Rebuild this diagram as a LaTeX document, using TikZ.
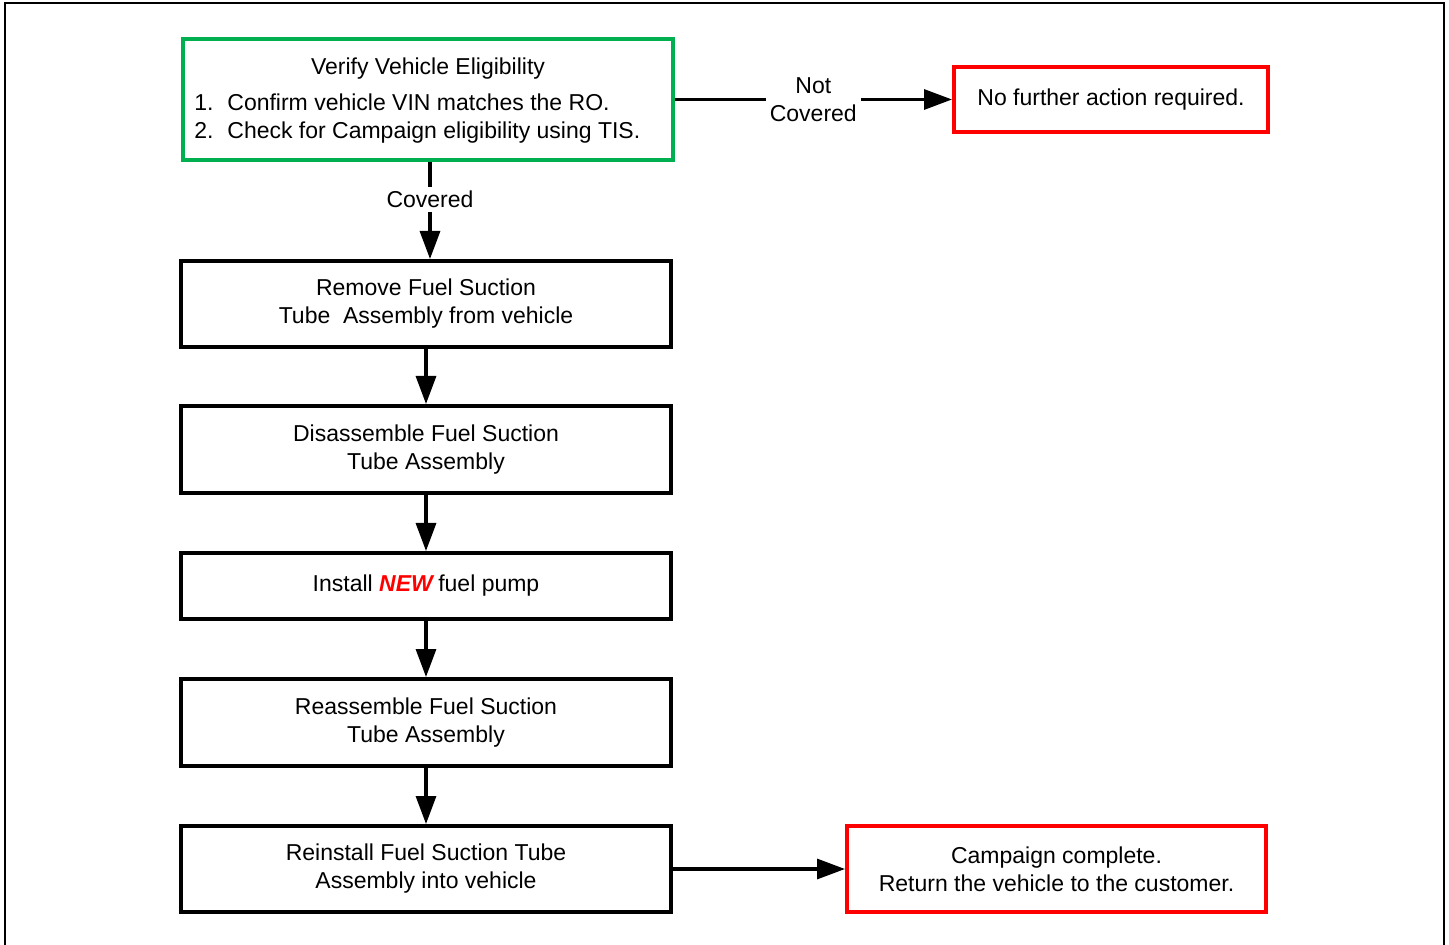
\documentclass[tikz,border=0pt]{standalone}
\usepackage{fontspec}
\setmainfont{Liberation Sans}
\usetikzlibrary{arrows.meta}
\definecolor{boxgreen}{RGB}{0,176,80}
\definecolor{boxred}{RGB}{255,0,0}
\begin{document}
\begin{tikzpicture}[x=0.5pt,y=-0.5pt,
  every node/.style={font=\fontsize{11.5pt}{14pt}\selectfont},
  stepbox/.style={draw=black,line width=2pt,minimum width=245pt,inner sep=0pt,align=center},
  endbox/.style={draw=boxred,line width=2pt,inner sep=0pt,align=center},
  startbox/.style={draw=boxgreen,line width=1.6pt,inner sep=0pt},
  txt/.style={inner sep=0pt},
  flow/.style={line width=1.6pt,-{Triangle[length=14pt,width=10pt]}},
  lbl/.style={fill=white,inner sep=2pt,align=center}]
\useasboundingbox (0,0) rectangle (1449,945);
\draw[line width=1.2pt] (5,960) -- (5,3) -- (1444,3) -- (1444,960);
% start box
\node[startbox,minimum width=245pt,minimum height=60.5pt] (verify) at (428,99.5) {};
\node[txt] (vtitle) at (428,69) {Verify Vehicle Eligibility};
\node[txt,anchor=base west] (v1n) at (194,111) {1.};
\node[txt,anchor=base west] (v1) at (227,111) {Confirm vehicle VIN matches the RO.};
\node[txt,anchor=base west] (v2n) at (194,139) {2.};
\node[txt,anchor=base west] (v2) at (227,139) {Check for Campaign eligibility using TIS.};
% end boxes
\node[endbox,minimum width=157pt,minimum height=32.5pt] (nofurther) at (1111,99.5) {No further action required.};
\node[endbox,minimum width=209.5pt,minimum height=43pt] (complete) at (1056.5,869) {Campaign complete.\\Return the vehicle to the customer.};
% steps
\node[stepbox,minimum height=43pt] (remove) at (426,304) {Remove Fuel Suction\\Tube\ \ Assembly from vehicle};
\node[stepbox,minimum height=43.5pt] (disasm) at (426,449.5) {Disassemble Fuel Suction\\Tube Assembly};
\node[stepbox,minimum height=33pt] (install) at (426,586) {Install \textcolor{boxred}{\textbf{\textit{NEW}}}\,fuel pump};
\node[stepbox,minimum height=43.5pt] (reasm) at (426,722.5) {Reassemble Fuel Suction\\Tube Assembly};
\node[stepbox,minimum height=43pt] (reinst) at (426,869) {Reinstall Fuel Suction Tube\\Assembly into vehicle};
% connectors
\coordinate (vtop) at ([xshift=1pt]verify.south);
\draw[flow] (vtop) -- node[lbl,pos=0.39] (covered) {Covered} (vtop |- remove.north);
\draw[flow] (verify.east) -- node[lbl,pos=0.5] (notcov) {Not\\Covered} (nofurther.west);
\draw[flow] (remove.south) -- (disasm.north);
\draw[flow] (disasm.south) -- (install.north);
\draw[flow] (install.south) -- (reasm.north);
\draw[flow] (reasm.south) -- (reinst.north);
\draw[flow] (reinst.east) -- (complete.west);
\end{tikzpicture}
\end{document}
